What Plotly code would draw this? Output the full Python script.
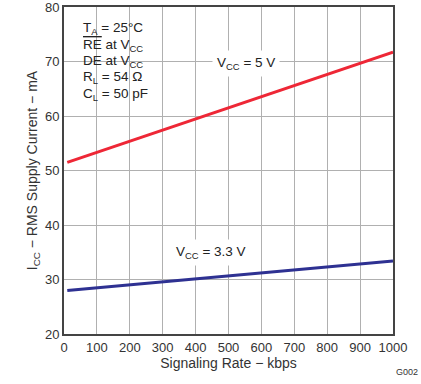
import plotly.graph_objects as go

rate = [10, 1000]
icc_5v = [51.5, 71.7]
icc_33v = [28.0, 33.4]
x_ticks = list(range(0, 1001, 100))
y_ticks = list(range(20, 81, 10))
cond_lines = ["T<sub>A</sub> = 25°C",
              "<span style='text-decoration:overline'>RE</span> at V<sub>CC</sub>",
              "DE at V<sub>CC</sub>",
              "R<sub>L</sub> = 54 Ω",
              "C<sub>L</sub> = 50 pF"]

fig = go.Figure()
fig.add_trace(go.Scatter(x=rate, y=icc_5v, mode="lines",
                         line=dict(color="#ee2736", width=3), showlegend=False))
fig.add_trace(go.Scatter(x=rate, y=icc_33v, mode="lines",
                         line=dict(color="#2e3192", width=3), showlegend=False))

fam = "Liberation Sans, Arial, sans-serif"
font = dict(family=fam, size=13, color="#333333")
tfont = dict(family=fam, size=14, color="#333333")
afont = dict(family=fam, size=13.5, color="#222222")

fig.update_layout(
    width=421, height=384,
    margin=dict(l=64, r=28, t=7, b=50),
    paper_bgcolor="white", plot_bgcolor="white",
    font=font,
    xaxis=dict(range=[0, 1000], tickvals=x_ticks, showgrid=True, gridcolor="#b0b0b0",
               gridwidth=1, showline=True, linecolor="#444444", linewidth=2, mirror=True,
               zeroline=False, ticks="", automargin=False, ticklabeloverflow="allow",
               title=dict(text="Signaling Rate − kbps", standoff=4, font=tfont), tickfont=font),
    yaxis=dict(range=[20, 80], tickvals=y_ticks, showgrid=True, gridcolor="#b0b0b0",
               gridwidth=1, showline=True, linecolor="#444444", linewidth=2, mirror=True,
               zeroline=False, ticks="", automargin=False, ticklabeloverflow="allow",
               title=dict(text="I<sub>CC</sub> − RMS Supply Current − mA", standoff=4, font=tfont),
               tickfont=font),
)

# white box behind the conditions text
fig.add_shape(type="rect", xref="paper", yref="paper", layer="below",
              x0=(71 - 64) / 329, x1=(164 - 64) / 329,
              y0=1 - (108 - 7) / 327, y1=1 - (18 - 7) / 327,
              fillcolor="white", line=dict(width=0))
baselines = [35, 51.5, 68, 84.5, 101]
for txt, b in zip(cond_lines, baselines):
    fig.add_annotation(x=(81 - 64) / 329, y=1 - (b - 7) / 327, xref="paper", yref="paper",
                       xanchor="left", yanchor="bottom", yshift=-4, align="left",
                       showarrow=False, font=afont, text=txt)

fig.add_annotation(x=553, y=69.7, xref="x", yref="y", showarrow=False, bgcolor="white",
                   borderpad=4, font=afont, text="V<sub>CC</sub> = 5 V")
fig.add_annotation(x=448, y=35.0, xref="x", yref="y", showarrow=False, bgcolor="white",
                   borderpad=4, font=afont, text="V<sub>CC</sub> = 3.3 V")
fig.add_annotation(x=1, y=0, xref="paper", yref="paper", xanchor="right", yanchor="middle",
                   yshift=-(372 - 334), xshift=27, showarrow=False,
                   font=dict(family=fam, size=9, color="#333333"),
                   text="G002")

fig.write_html("out.html", config={"displayModeBar": False},
               post_script="document.body.style.margin='0';")
